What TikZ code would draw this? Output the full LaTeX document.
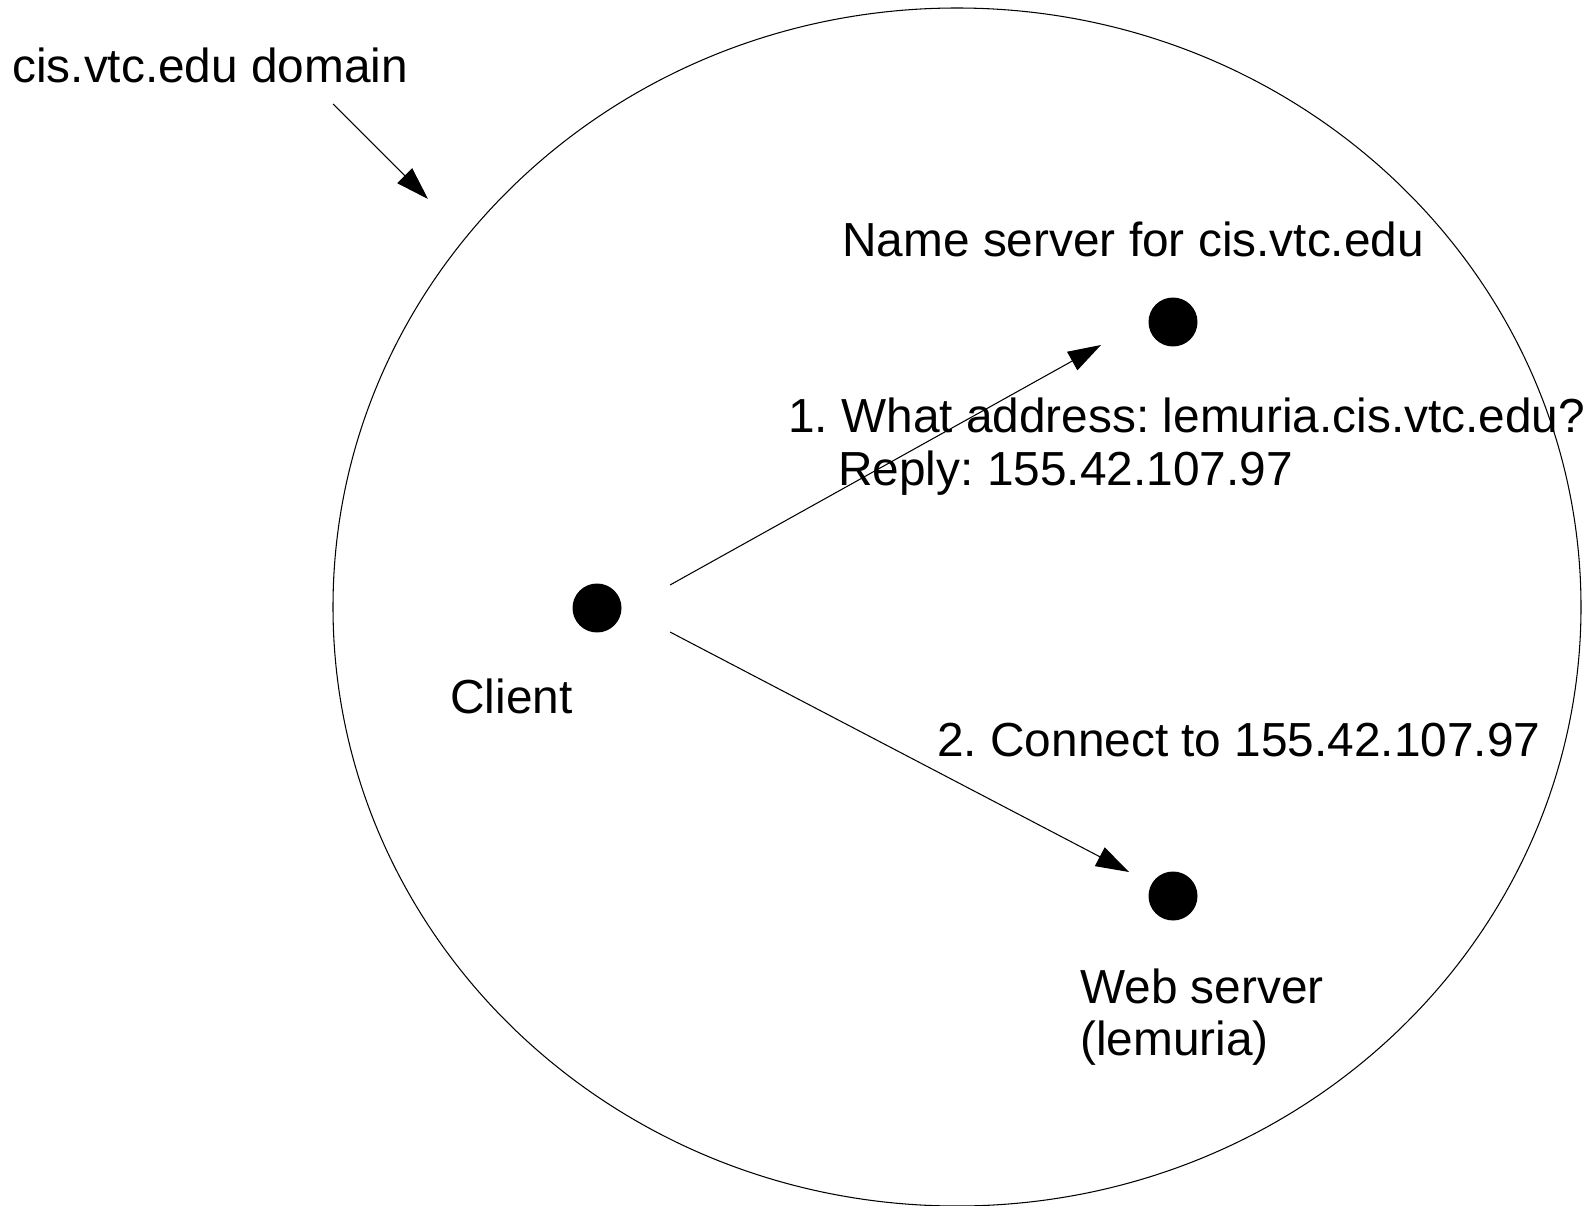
\documentclass[tikz,border=0pt]{standalone}
\usepackage{fontspec}
\setmainfont{Liberation Sans}
\usetikzlibrary{arrows.meta}
\begin{document}
\frenchspacing
\begin{tikzpicture}[x=0.02cm,y=-0.02cm,
  lbl/.style={anchor=base west, inner sep=0pt, font=\fontsize{27.2}{29.6}\selectfont\frenchspacing, align=left},
  dot/.style={circle, fill=black, inner sep=0pt, minimum size=0.98cm},
  conn/.style={line width=0.6pt, -{Triangle[length=0.66cm,width=0.42cm]}},
]
\useasboundingbox (0,0) rectangle (1589,1206);
\draw[line width=0.6pt] (957,607) ellipse [x radius=624, y radius=599];
\node[lbl] (domain) at (12,83) {cis.vtc.edu domain};
\node[lbl] (nslabel) at (842,256) {Name server for cis.vtc.edu};
\node[dot] (ns) at (1173,322) {};
\node[dot] (client) at (597,608) {};
\node[dot] (web) at (1173,896) {};
\node[lbl] (query) at (788,485) {1. What address: lemuria.cis.vtc.edu?\\\hspace*{1cm}Reply: 155.42.107.97};
\node[lbl] (clientlabel) at (450,713) {Client};
\node[lbl] (connect) at (937,756) {2. Connect to 155.42.107.97};
\node[lbl] (weblabel) at (1080,1055) {Web server\\(lemuria)};
\coordinate (dstart) at (333,104);
\coordinate (dend) at (428,199);
\coordinate (c1) at (670,585);
\coordinate (n1) at (1101,345);
\coordinate (c2) at (670,632);
\coordinate (w2) at (1129,872);
\draw[conn] (dstart) -- (dend);
\draw[conn] (c1) -- (n1);
\draw[conn] (c2) -- (w2);
\end{tikzpicture}
\end{document}
